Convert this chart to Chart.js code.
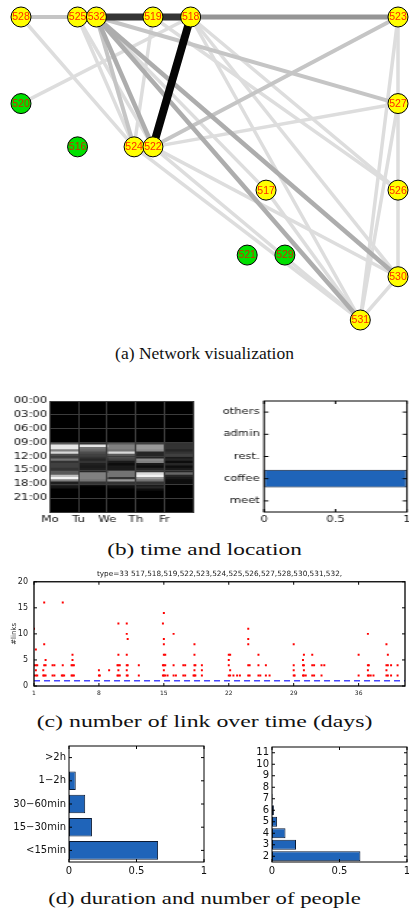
<!DOCTYPE html>
<html><head><meta charset="utf-8">
<script src="https://cdn.jsdelivr.net/npm/chart.js@4.4.1/dist/chart.umd.min.js"></script>
<style>
html,body{margin:0;padding:0;background:#fff;}
#page{position:relative;width:409px;height:911px;overflow:hidden;background:#fff;}
.box{position:absolute;}
canvas{display:block;}
.cap{position:absolute;left:0;width:409px;text-align:center;font-family:"Liberation Serif","DejaVu Serif",serif;font-size:17.5px;color:#111;line-height:20px;white-space:nowrap;}
</style></head><body>
<div id="page">
  <div class="box" style="left:0;top:0"><canvas id="net" width="409" height="340"></canvas></div>
  <div class="cap" style="top:343px">(a) Network visualization</div>

  <div class="box" style="left:0;top:390px;transform:scaleX(1.449);transform-origin:0 0"><canvas id="heat" width="138" height="140"></canvas></div>
  <div class="box" style="left:210px;top:390px;transform:scaleX(1.4526);transform-origin:0 0"><canvas id="loc" width="137" height="140"></canvas></div>
  <div class="cap" style="top:539px;transform:scaleX(1.33)">(b) time and location</div>

  <div class="box" style="left:0;top:566px"><canvas id="links" width="409" height="134"></canvas></div>
  <div class="cap" style="top:711px;transform:scaleX(1.36)">(c) number of link over time (days)</div>

  <div class="box" style="left:0;top:735px"><canvas id="dur" width="210" height="145"></canvas></div>
  <div class="box" style="left:205px;top:735px"><canvas id="ppl" width="204" height="145"></canvas></div>
  <div class="cap" style="top:888px;transform:scaleX(1.3)">(d) duration and number of people</div>
</div>
<script>
// ================= DATA =================
// (a) network
const nodeIds    = ['528','525','532','519','518','523','520','527','516','524','522','517','526','521','529','530','531'];
const nodeX      = [0,3,4,7,9,20,0,20,3,6,7,13,20,12,14,20,18];
const nodeY      = [0,0,0,0,0,0,4,4,6,6,6,8,8,11,11,12,14];
const nodeActive = [1,1,1,1,1,1,0,1,0,1,1,1,1,0,0,1,1];
const edgeFrom   = ['528','532','519','518','518','532','532','532','532','532','522','522','522','522','524','518','518','518','520','528','525','525','519','523','527','523','526','530','532','517','519','527'];
const edgeTo     = ['525','519','518','523','522','531','530','522','524','527','523','527','530','531','531','531','530','526','518','524','522','524','524','531','531','527','530','531','517','531','526','526'];
const edgeWeight = [2,8,8,4,10,3,3,3,2,2,2,1,1,1,1,1,1,1,1,1,1,1,1,1,1,1,1,1,1,1,1,1];

// (b) time heat map (30-min bins from 09:00 to 20:00), and location shares
const dayNames = ['Mo','Tu','We','Th','Fr'];
const heatStartHour = 9;
const heatBinHours = 0.5;
const monHeat = [0.35,0.9,0.9,0.5,0.85,0.3,0.25,0.45,0.2,0.25,0.25,0.2,0.35,0.35,0.75,0.95,0.5,0.12,0.12,0.08,0,0];
const tueHeat = [0.2,0.9,0.45,0.4,0.3,0.25,0.2,0.15,0.2,0.12,0.1,0.12,0.15,0.5,0.5,0.5,0.45,0.2,0.05,0,0,0];
const wedHeat = [0.35,0.5,0.5,0.45,0.85,0.35,0.3,0.25,0.1,0.05,0.1,0.1,0.45,0.45,0.45,0.2,0.6,0.2,0.1,0.05,0,0];
const thuHeat = [0.25,0.6,0.6,0.55,0.15,0.15,0.15,0.55,0.5,0.1,0.05,0.15,0.2,0.85,0.95,0.6,0.45,0.2,0.1,0.15,0.05,0];
const friHeat = [0.2,0.2,0.2,0.15,0.2,0.25,0.1,0.15,0.05,0.15,0.05,0.1,0.15,0.4,0.15,0.1,0.05,0.05,0,0,0,0];
const hourTicks = [0,3,6,9,12,15,18,21,24];
const locations = ['meet','coffee','rest.','admin','others'];
const locationShare = [0,1,0,0,0];

// (c) number of links over time
const typeId = 33;
const dayMin = 1, dayMax = 41;
const dayTicks = [1,8,15,22,29,36];
const thresholdLinks = 1;
const linkDay = [
  1.0,1.0,1.0, 1.2,1.2,1.2,1.2, 1.35,1.35, 2.0,2.0, 2.1,2.1,2.1,2.1, 2.25,2.25,2.25,
  3.0,3.0, 3.2,3.2, 4.0, 4.1,4.1,4.1, 4.25, 5.05,5.05, 5.15,5.15,5.15,5.15, 5.3,5.3,
  8.0,8.0, 8.1, 9.1, 10.0,10.0, 10.1,10.1,10.1,10.1,10.1, 10.25,10.25,
  11.0,11.0,11.0,11.0,11.0,11.0, 11.1,11.1,11.1, 12.3,12.3,
  14.9,14.9,14.9, 15.0,15.0,15.0,15.0,15.0,15.0,15.0, 15.15,15.15,15.15, 15.4,
  16.05,16.05,16.05, 16.3, 17.1,17.1, 17.3,17.3, 18.2, 18.3,18.3,18.3,18.3,18.3, 18.4,18.4, 19.1,19.1,19.1,
  22.0,22.0,22.0,22.0, 22.15,22.15,22.15, 22.5, 22.9, 23.2,
  24.1,24.1,24.1,24.1,24.1, 24.25,24.25, 25.2,25.2,25.2, 25.4, 26.0,26.0, 26.4,
  29.0,29.0,29.0,29.0, 29.1, 30.0,30.0,30.0, 30.1,30.1,30.1,30.1, 30.3, 31.0,31.0,31.0, 31.2,31.2, 32.0,32.0, 32.3,
  36.0,36.0, 37.0,37.0,37.0,37.0, 37.1,37.1, 37.3, 37.6, 39.0,39.0,39.0,39.0, 39.15,39.15,39.15, 39.5,39.5, 40.2,40.2
];
const linkCount = [
  11,4,2, 7,4,3,2, 4,2, 3,2, 16,8,4,2, 5,4,2,
  4,2, 4,2, 2, 16,4,2, 2, 4,2, 6,5,4,2, 4,2,
  3,2, 2, 3, 4,2, 12,6,4,3,2, 4,2,
  12,10,6,4,3,2, 9,4,2, 4,2,
  12,4,2, 14,9,8,6,4,3,2, 6,4,2, 2,
  10,4,2, 2, 4,2, 4,2, 2, 8,6,4,3,2, 4,2, 4,3,2,
  6,5,4,2, 6,3,2, 2, 2, 2,
  11,9,8,4,2, 4,2, 6,4,2, 2, 4,2, 2,
  8,4,3,2, 2, 5,4,2, 6,4,3,2, 2, 6,4,2, 4,2, 4,2, 4,
  6,2, 10,4,3,2, 4,2, 2, 2, 8,4,3,2, 6,4,2, 4,2, 4,2
];

// (d) duration and number of people
const durations = ['<15min','15\u221230min','30\u221260min','1\u22122h','>2h'];
const durationShare = [0.66,0.17,0.12,0.05,0];
const groupSizes = ['2','3','4','5','6','7','8','9','10','11'];
const groupShare = [0.655,0.178,0.10,0.038,0.014,0.004,0,0,0,0];

// ================= RENDER =================
const FONT = '"DejaVu Sans", "Liberation Sans", sans-serif';
const fnt = s => ({family: FONT, size: s, weight: 'normal'});
const BLUE = '#1f64b9';
const numLabel = v => String(Math.round(v * 100) / 100);
Chart.defaults.animation = false;
Chart.defaults.responsive = false;
Chart.defaults.devicePixelRatio = 1;
Chart.defaults.events = [];
Chart.defaults.color = '#111';
Chart.defaults.plugins.legend.display = false;
Chart.defaults.plugins.tooltip.enabled = false;

const frame = {
  id: 'frame',
  afterDatasetsDraw(chart, args, o) {
    const {ctx, chartArea: a} = chart;
    const xs = chart.scales.x, ys = chart.scales.y, L = o.tick || 3;
    ctx.save();
    ctx.strokeStyle = '#000';
    ctx.lineWidth = 1;
    ctx.beginPath();
    xs.ticks.forEach(t => { const p = xs.getPixelForValue(t.value);
      ctx.moveTo(p, a.bottom); ctx.lineTo(p, a.bottom - L); ctx.moveTo(p, a.top); ctx.lineTo(p, a.top + L); });
    ys.ticks.forEach(t => { const p = ys.getPixelForValue(t.value);
      ctx.moveTo(a.left, p); ctx.lineTo(a.left + L, p); ctx.moveTo(a.right, p); ctx.lineTo(a.right - L, p); });
    ctx.stroke();
    ctx.lineWidth = o.width || 1;
    ctx.strokeRect(a.left, a.top, a.right - a.left, a.bottom - a.top);
    ctx.restore();
  }
};
const areaBg = {
  id: 'areaBg',
  beforeDatasetsDraw(chart, args, o) {
    const {ctx, chartArea: a} = chart;
    ctx.save(); ctx.fillStyle = o.color; ctx.fillRect(a.left, a.top, a.right - a.left, a.bottom - a.top); ctx.restore();
  }
};

// ---- (a) network ----
const idx = id => nodeIds.indexOf(id);
const edgeSets = edgeFrom.map((f, i) => {
  const w = edgeWeight[i], a = idx(f), b = idx(edgeTo[i]);
  const g = Math.max(0, Math.round(245 - 24 * w));
  return {
    data: [{x: nodeX[a], y: nodeY[a]}, {x: nodeX[b], y: nodeY[b]}],
    showLine: true, pointRadius: 0, borderColor: `rgb(${g},${g},${g})`,
    borderWidth: 3 + 0.5 * w, order: 100 - w, clip: false
  };
});
const nodeLabels = {
  id: 'nodeLabels',
  afterDatasetsDraw(chart) {
    const ctx = chart.ctx, meta = chart.getDatasetMeta(0);
    ctx.save();
    ctx.font = '10.5px "Liberation Sans", Arial, sans-serif';
    ctx.textAlign = 'center'; ctx.textBaseline = 'middle';
    meta.data.forEach((p, i) => {
      ctx.fillStyle = nodeActive[i] ? '#ff2a00' : '#d02a00';
      ctx.fillText(nodeIds[i], p.x, p.y + 0.5);
    });
    ctx.restore();
  }
};
new Chart(document.getElementById('net'), {
  type: 'scatter',
  data: { datasets: [{
      data: nodeIds.map((id, i) => ({x: nodeX[i], y: nodeY[i]})),
      pointRadius: 10, borderColor: '#000', borderWidth: 1,
      backgroundColor: nodeActive.map(v => v ? '#ffff00' : '#00e000'), order: 0, clip: false
    }, ...edgeSets] },
  options: {
    layout: {padding: {left: 21, right: 10, top: 17, bottom: 20}},
    scales: {
      x: {type: 'linear', min: 0, max: 20, display: false},
      y: {type: 'linear', min: 0, max: 14, reverse: true, display: false}
    }
  },
  plugins: [nodeLabels]
});

// ---- (b) heat map ----
const heats = [monHeat, tueHeat, wedHeat, thuHeat, friHeat];
const grayOf = v => { const g = Math.round(255 * v); return `rgb(${g},${g},${g})`; };
new Chart(document.getElementById('heat'), {
  type: 'bar',
  data: { datasets: heats.map((h, d) => ({
    data: h.map((v, k) => ({x: d + 0.5, y: [heatStartHour + k * heatBinHours, heatStartHour + (k + 1) * heatBinHours]})),
    backgroundColor: h.map(grayOf), borderWidth: 0, barPercentage: 1, categoryPercentage: 1, grouped: false
  })) },
  options: {
    layout: {padding: {left: 0, right: 4.8, top: 11, bottom: 0}},
    plugins: {areaBg: {color: '#000'}},
    scales: {
      x: {type: 'linear', min: 0, max: 5, offset: false,
          afterBuildTicks: s => { s.ticks = [0,1,2,3,4,5].map(v => ({value: v})); },
          ticks: {callback: v => dayNames[v] || '', font: fnt(8.2), color: '#111', padding: 3, autoSkip: false, maxRotation: 0},
          grid: {color: '#3c3c3c', z: 1, drawTicks: false, offset: false}, border: {color: '#3c3c3c', z: 1},
          afterFit: s => { s.height = 18; s.paddingLeft = 0; s.paddingRight = 0; }},
      y: {type: 'linear', min: 0, max: 24, reverse: true,
          afterBuildTicks: s => { s.ticks = hourTicks.map(v => ({value: v})); },
          ticks: {callback: v => v < 24 ? String(v).padStart(2, '0') + ':00' : '', font: fnt(8), color: '#111', padding: 2, autoSkip: false},
          grid: {color: '#3c3c3c', z: 1, drawTicks: false}, border: {color: '#3c3c3c', z: 1},
          afterFit: s => { s.width = 34.5; s.paddingTop = 0; s.paddingBottom = 0; }}
    }
  },
  plugins: [areaBg]
});

// ---- horizontal bar helper ----
function hbar(id, labels, values, opt) {
  return new Chart(document.getElementById(id), {
    type: 'bar',
    data: { labels, datasets: [{ data: values, backgroundColor: BLUE, borderColor: '#0b1a33', borderWidth: 1,
      borderSkipped: false, barPercentage: opt.bp, categoryPercentage: 1 }] },
    options: {
      indexAxis: 'y',
      layout: {padding: opt.pad},
      plugins: {frame: {tick: 3}},
      scales: {
        x: {min: 0, max: 1, ticks: {stepSize: 0.5, callback: numLabel, font: fnt(opt.fs), color: '#111', padding: opt.xpad, maxRotation: 0},
            grid: {display: false, drawTicks: false}, border: {display: false},
            afterFit: s => { s.height = 18; s.paddingLeft = 0; s.paddingRight = 0; }},
        y: {reverse: true, ticks: {font: fnt(opt.fs), color: '#111', padding: 3, autoSkip: false},
            grid: {display: false, drawTicks: false}, border: {display: false},
            afterFit: s => { s.width = opt.yw; s.paddingTop = 0; s.paddingBottom = 0; }}
      }
    },
    plugins: [frame]
  });
}
hbar('loc', locations, locationShare, {bp: 0.8, fs: 8, xpad: 3, yw: 37.2, pad: {left: 0, right: 1.4, top: 11, bottom: 0}});

// ---- (c) links over time ----
const activeIds = nodeIds.filter((id, i) => nodeActive[i]).sort();
new Chart(document.getElementById('links'), {
  type: 'scatter',
  data: { datasets: [
    {data: linkDay.map((d, i) => ({x: d, y: linkCount[i]})), pointStyle: 'rect', pointRadius: 1.4,
     backgroundColor: '#ff0000', borderWidth: 0, order: 0},
    {data: [{x: dayMin, y: thresholdLinks}, {x: dayMax, y: thresholdLinks}], showLine: true,
     borderColor: '#4848ff', borderWidth: 1.4, borderDash: [6, 4], pointRadius: 0, order: 1}
  ] },
  options: {
    layout: {padding: {left: 0, right: 1, top: 0, bottom: 0}},
    plugins: {
      frame: {tick: 3, width: 1.3},
      title: {display: true, text: 'type=' + typeId + ' ' + activeIds.join(',') + ',', font: fnt(7.3), color: '#222',
              padding: {top: 4, bottom: 3}, fullSize: false}
    },
    scales: {
      x: {type: 'linear', min: dayMin, max: dayMax,
          afterBuildTicks: s => { s.ticks = dayTicks.map(v => ({value: v})); },
          ticks: {font: fnt(6), color: '#222', padding: 4, autoSkip: false, maxRotation: 0},
          grid: {display: false, drawTicks: false}, border: {display: false},
          afterFit: s => { s.height = 14; s.paddingLeft = 0; s.paddingRight = 0; }},
      y: {min: 0, max: 20, ticks: {stepSize: 5, font: fnt(8), color: '#222', padding: 6},
          title: {display: true, text: '#links', font: fnt(7), color: '#222', padding: {top: 10, bottom: 0}},
          grid: {display: false, drawTicks: false}, border: {display: false},
          afterFit: s => { s.width = 34; s.paddingTop = 0; s.paddingBottom = 0; }}
    }
  },
  plugins: [frame]
});

// ---- (d) ----
hbar('dur', durations, durationShare, {bp: 0.8, fs: 10, xpad: 3, yw: 69, pad: {left: 0, right: 6, top: 11, bottom: 0}});
hbar('ppl', groupSizes, groupShare, {bp: 0.85, fs: 10, xpad: 3, yw: 67, pad: {left: 0, right: 2, top: 12, bottom: 0}});
</script>
</body></html>
